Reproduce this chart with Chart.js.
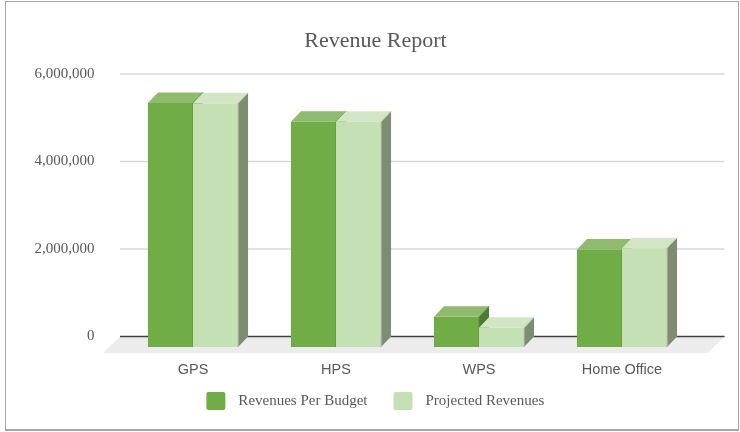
<!DOCTYPE html>
<html>
<head>
<meta charset="utf-8">
<script src="https://cdn.jsdelivr.net/npm/chart.js@4/dist/chart.umd.min.js"></script>
<style>
  body { margin: 0; background: #fff; }
  #frame { position: absolute; left: 5px; top: 1px; width: 732px; height: 427px; border: 1px solid #a6a6a6; border-bottom: 2px solid #a6a6a6; }
  #wrap { position: absolute; left: 0; top: 0; width: 740px; height: 432px; }
</style>
</head>
<body>
<div id="frame"></div>
<div id="wrap"><canvas id="revenueChart" width="740" height="432"></canvas></div>
<script>
// values
var categories = ["GPS", "HPS", "WPS", "Home Office"];
var revenuesPerBudget = [5580000, 5150000, 690000, 2230000];
var projectedRevenues = [5570000, 5150000, 440000, 2260000];
var yTicks = [0, 2000000, 4000000, 6000000];

// depth of the fake 3d boxes
var DX = 10, DY = 10.5;

var box3d = {
  id: 'box3d',
  beforeDatasetsDraw: function(chart) {
    var ctx = chart.ctx, area = chart.chartArea, ys = chart.scales.y;
    var y0 = ys.getPixelForValue(0);
    var gl = area.left - 11.5, gr = area.right + 21;
    ctx.save();

    // back wall grid lines
    ctx.strokeStyle = '#d9d9d9';
    ctx.lineWidth = 1.5;
    yTicks.forEach(function(v) {
      if (v === 0) return;
      var py = ys.getPixelForValue(v);
      ctx.beginPath(); ctx.moveTo(gl, py); ctx.lineTo(gr, py); ctx.stroke();
    });

    // floor
    ctx.fillStyle = '#ececec';
    ctx.beginPath();
    ctx.moveTo(gl, y0);
    ctx.lineTo(gr, y0);
    ctx.lineTo(gr - 17, y0 + 16.5);
    ctx.lineTo(gl - 17, y0 + 16.5);
    ctx.closePath();
    ctx.fill();

    ctx.strokeStyle = '#404040';
    ctx.lineWidth = 1.5;
    ctx.beginPath(); ctx.moveTo(gl, y0); ctx.lineTo(gr, y0); ctx.stroke();

    // boxes, budget first so projected covers its side
    chart.data.datasets.forEach(function(ds, i) {
      var meta = chart.getDatasetMeta(i);
      meta.data.forEach(function(bar) {
        var l = bar.x - bar.width / 2 - DX, r = bar.x + bar.width / 2 - DX;
        var t = bar.y + DY, b = bar.base + DY;

        ctx.fillStyle = ds.backgroundColor;
        ctx.fillRect(l, t, r - l, b - t);

        ctx.fillStyle = ds.sideColor;
        ctx.beginPath();
        ctx.moveTo(r, t); ctx.lineTo(r + DX, t - DY); ctx.lineTo(r + DX, b - DY); ctx.lineTo(r, b);
        ctx.closePath(); ctx.fill();

        ctx.fillStyle = ds.topColor;
        ctx.beginPath();
        ctx.moveTo(l, t); ctx.lineTo(l + DX, t - DY); ctx.lineTo(r + DX, t - DY); ctx.lineTo(r, t);
        ctx.closePath(); ctx.fill();

        ctx.strokeStyle = ds.edgeColor;
        ctx.lineWidth = 1;
        ctx.beginPath();
        ctx.moveTo(r, b); ctx.lineTo(r, t); ctx.lineTo(r + DX, t - DY);
        ctx.stroke();
      });
    });

    ctx.restore();
    return false;
  }
};

// legend under the axis, spaced like the original
var legendRow = {
  id: 'legendRow',
  afterDraw: function(chart) {
    var ctx = chart.ctx;
    var sets = chart.data.datasets;
    ctx.save();
    ctx.font = '15px "Liberation Serif"';
    var widths = sets.map(function(ds) { return ctx.measureText(ds.label).width; });
    var total = 0;
    widths.forEach(function(w, i) { total += 19 + 13 + w + (i < widths.length - 1 ? 26 : 0); });
    var x = 375.3 - total / 2, y = 401;
    sets.forEach(function(ds, i) {
      ctx.fillStyle = ds.backgroundColor;
      ctx.beginPath();
      if (ctx.roundRect) ctx.roundRect(x, y - 9, 19, 18, 2); else ctx.rect(x, y - 9, 19, 18);
      ctx.fill();
      ctx.fillStyle = '#595959';
      ctx.textBaseline = 'middle';
      ctx.textAlign = 'left';
      ctx.fillText(ds.label, x + 32, y);
      x += 19 + 13 + widths[i] + 26;
    });
    ctx.restore();
  }
};

var canvas = document.getElementById("revenueChart");
var revenueChart = new Chart(canvas, {
  type: 'bar',
  data: {
    labels: categories,
    datasets: [
      {
        label: "Revenues Per Budget",
        data: revenuesPerBudget,
        backgroundColor: "#70ad47",
        topColor: "#8ebb6e",
        sideColor: "#4e7a30",
        edgeColor: "#5a8c3a",
        borderWidth: 0,
        categoryPercentage: 0.63,
        barPercentage: 1.0
      },
      {
        label: "Projected Revenues",
        data: projectedRevenues,
        backgroundColor: "#c5e0b4",
        topColor: "#d2e6c5",
        sideColor: "#7f8b72",
        edgeColor: "#b3cca3",
        borderWidth: 0,
        categoryPercentage: 0.63,
        barPercentage: 1.0
      }
    ]
  },
  options: {
    responsive: false,
    animation: false,
    devicePixelRatio: 1,
    layout: { padding: { top: 0, left: 11, right: 0, bottom: 50.5 } },
    plugins: {
      title: {
        display: true,
        text: "Revenue Report",
        color: "#595959",
        font: { family: "Liberation Serif", size: 22, weight: "normal" },
        padding: { top: 28, bottom: 19.6 }
      },
      legend: { display: false },
      tooltip: { enabled: false }
    },
    scales: {
      x: {
        offset: true,
        grid: { display: false, drawTicks: false },
        border: { display: false },
        ticks: {
          color: "#595959",
          font: { family: "Liberation Sans", size: 14.5 },
          padding: 24.8,
          labelOffset: -DX
        },
        afterFit: function(s) { s.height = 45; }
      },
      y: {
        min: 0,
        max: 6000000,
        grid: { display: false, drawTicks: false },
        border: { display: false },
        afterBuildTicks: function(s) {
          s.ticks = yTicks.map(function(v) { return { value: v }; });
        },
        ticks: {
          color: "#595959",
          font: { family: "Liberation Serif", size: 15 },
          padding: 37,
          callback: function(v) { return v.toLocaleString('en-US'); }
        },
        afterFit: function(s) { s.width = 120.5; }
      },
      yRight: {
        position: 'right',
        display: true,
        grid: { display: false, drawTicks: false },
        border: { display: false },
        ticks: { display: false },
        afterFit: function(s) { s.width = 36.5; }
      }
    }
  },
  plugins: [box3d, legendRow]
});
</script>
</body>
</html>
